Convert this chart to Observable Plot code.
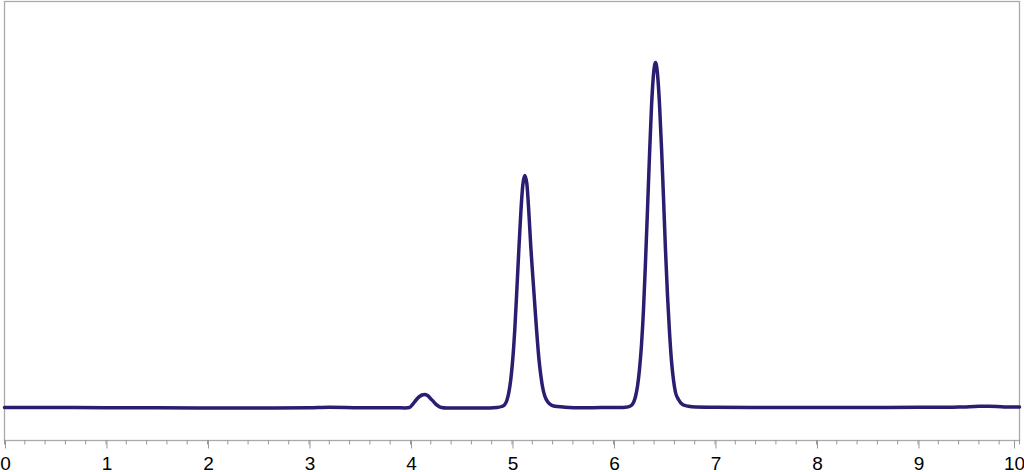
<!DOCTYPE html>
<html><head><meta charset="utf-8">
<script src="https://cdn.jsdelivr.net/npm/d3@7"></script>
<script src="https://cdn.jsdelivr.net/npm/@observablehq/plot@0.6"></script>
<style>body{margin:0;background:#fff} svg{display:block}</style>
</head><body><div id="chart"></div>
<script>
// Retention time (min)
const time = [0,0.5,1.0,1.5,2.0,2.5,3.0,3.2,3.5,3.85,
  3.951,3.990,4.020,4.059,4.089,4.113,4.141,4.167,4.197,4.230,4.266,4.305,4.355,4.6,
  4.780,4.850,4.899,4.929,4.949,4.968,4.988,5.008,5.028,5.047,5.067,5.087,5.106,5.126,
  5.146,5.165,5.185,5.205,5.225,5.244,5.264,5.284,5.303,5.323,5.353,5.392,5.451,5.520,5.7,
  5.872,6.060,6.118,6.167,6.197,6.217,6.236,6.256,6.276,6.296,6.315,6.335,6.355,6.374,6.394,6.414,
  6.433,6.453,6.473,6.493,6.512,6.532,6.552,6.571,6.591,6.611,6.640,6.680,6.739,6.808,
  7.0,7.5,8.0,8.5,9.0,9.4,9.6,9.7,9.85,10];
// Detector signal (arbitrary units)
const signal = [0,0,-0.2,-0.3,-0.6,-0.6,-0.3,0.2,-0.2,-0.3,
  -0.4,0,3,8,11,12.5,13,12,9,5.5,2,0,-0.5,-0.6,
  -0.4,0,1,3,7,14.6,28,49,79,116,157,195,222,232,
  224,197,161,131,102,75,50,32,19.5,11.5,5.5,2.2,0.9,0.3,-0.3,
  0,0.1,0.3,1.5,5,11,21,38,63,99,145,198,253,300,333,345,
  334,304,260,209,158,112,75,47,27.5,15,8,3,1.2,0.5,
  0.3,0,0,0,0.2,0.4,1.2,1.3,0.6,0.5];
const majorTicks = [0,1,2,3,4,5,6,7,8,9,10];
const minorTicks = d3.range(0, 50.5, 1).map(i => i / 5);
const yDomain = [-33, 406];

const data = time.map((t, i) => ({t, v: signal[i]}));

const chart = Plot.plot({
  width: 1024,
  height: 472,
  marginTop: 1,
  marginBottom: 32,
  marginLeft: 4,
  marginRight: 5,
  style: {fontFamily: "'Liberation Sans', Arial, sans-serif", background: "#fff"},
  x: {domain: [0, 10]},
  y: {domain: yDomain, axis: null},
  marks: [
    Plot.frame({stroke: "#aaa", strokeWidth: 1.3}),
    Plot.axisX({ticks: minorTicks, tickSize: 4.5, stroke: "#999", text: null, label: null}),
    Plot.axisX({ticks: majorTicks.slice(0, -1), tickSize: 8.5, stroke: "#999", tickFormat: d => String(d),
      fontSize: 19, fill: "#000", tickPadding: 7, dx: 1, label: null}),
    Plot.axisX({ticks: majorTicks.slice(-1), tickSize: 8.5, stroke: "#999", tickFormat: d => String(d),
      fontSize: 19, fill: "#000", tickPadding: 7, dx: -5, label: null}),
    Plot.line(data, {x: "t", y: "v", stroke: "#2b1d6f", strokeWidth: 3.5, curve: "monotone-x", strokeLinejoin: "round"})
  ]
});
document.getElementById("chart").appendChild(chart);
</script>
</body></html>
